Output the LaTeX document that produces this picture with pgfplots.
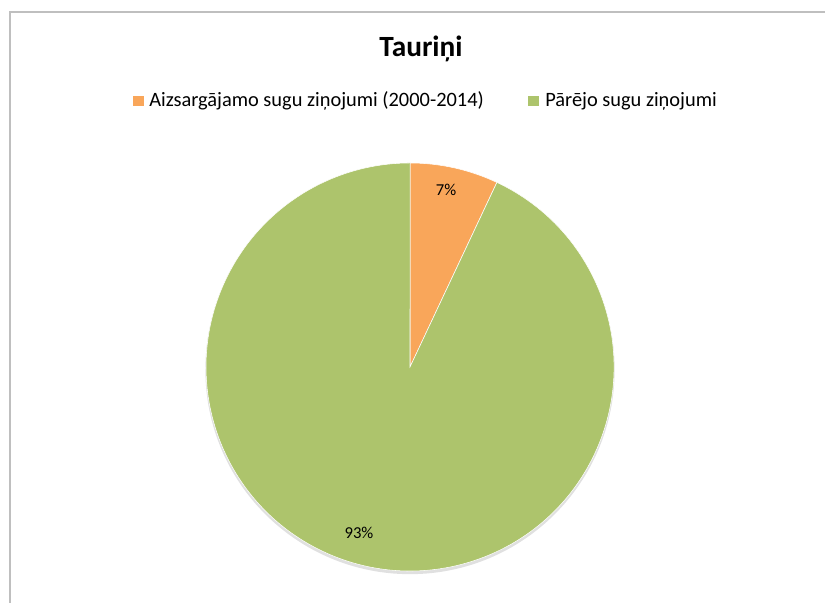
\documentclass[border=0pt]{standalone}
\usepackage{pgfplots}
\pgfplotsset{compat=1.18}
\usepackage{fontspec}
\setmainfont{Carlito}
\definecolor{pieorange}{HTML}{F9A65A}
\definecolor{piegreen}{HTML}{ADC46C}
\definecolor{framegray}{HTML}{BFBFBF}
% shares (percent)
\def\vA{7}
\def\vB{93}
\begin{document}
\begin{tikzpicture}
\useasboundingbox (0,0) rectangle (618.75pt,452.25pt);
\begin{axis}[
  x=0.75pt, y=0.75pt,
  xmin=0, xmax=825, ymin=0, ymax=603,
  hide axis, clip=false,
  anchor=south west, at={(0,0)},
]
% frame
\draw[framegray, line width=1.5pt] (axis cs:9.5,0) -- (axis cs:9.5,591) -- (axis cs:825,591);
% shadow
\fill[black!12] (axis cs:410,233.5) circle[radius=153.5pt];
% wedges: orange from 90 deg clockwise by 3.6*7, green the rest
\pgfmathsetmacro{\aEnd}{90-3.6*\vA}
\addplot[fill=pieorange, draw=white, line width=0.4pt] coordinates {(410,236) (410,440)}
  arc[start angle=90, end angle=\aEnd, radius=153pt] -- cycle;
\addplot[fill=piegreen, draw=white, line width=0.4pt] coordinates {(410,236) (496.9,420.6)}
  arc[start angle=\aEnd, end angle=-270, radius=153pt] -- cycle;
% labels
\node[anchor=base, font=\fontsize{12.5}{14}\selectfont] at (axis cs:446,407) {7\%};
\node[anchor=base, font=\fontsize{12.5}{14}\selectfont] at (axis cs:359,64) {93\%};
% title
\node[anchor=base, font=\fontsize{22}{25}\selectfont\bfseries] at (axis cs:421,546) {Tauriņi};
% legend
\fill[pieorange] (axis cs:133,497) rectangle (axis cs:144,507);
\node[anchor=base west, inner sep=0pt, font=\fontsize{15.3}{18}\selectfont] at (axis cs:149,496) {Aizsargājamo sugu ziņojumi (2000-2014)};
\fill[piegreen] (axis cs:528,497) rectangle (axis cs:539,507);
\node[anchor=base west, inner sep=0pt, font=\fontsize{15.3}{18}\selectfont] at (axis cs:545,496) {Pārējo sugu ziņojumi};
\end{axis}
\end{tikzpicture}
\end{document}
